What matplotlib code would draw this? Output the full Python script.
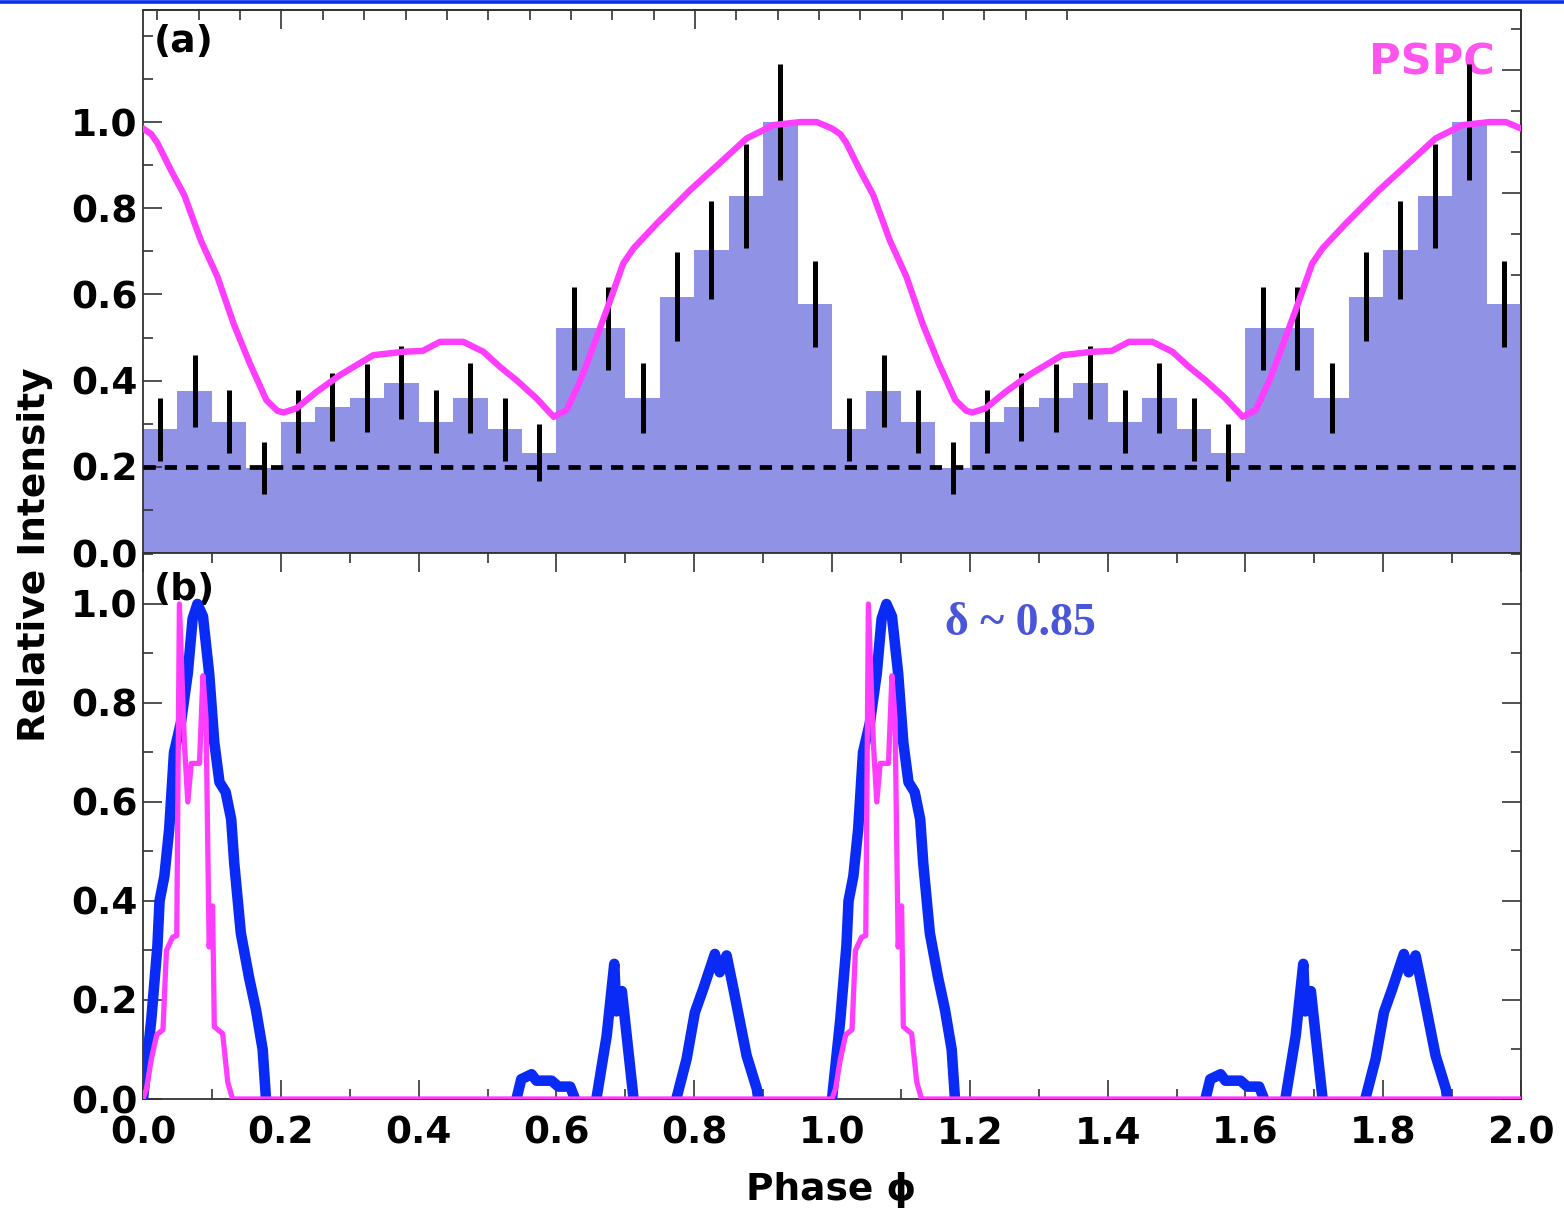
import numpy as np
import matplotlib
matplotlib.use("Agg")
import matplotlib.pyplot as plt
from matplotlib.lines import Line2D

plt.rcParams['font.family'] = ['DejaVu Sans']
plt.rcParams['font.weight'] = 'bold'

# ---- panel (a): binned light curve, one cycle (repeated for phase 1-2)
bin_width = 0.05
bin_counts = [0.287, 0.376, 0.305, 0.197, 0.305, 0.339, 0.359, 0.395, 0.305, 0.359,
              0.287, 0.233, 0.521, 0.521, 0.359, 0.595, 0.703, 0.829, 1.0, 0.577]
bin_errors = [0.073, 0.083, 0.074, 0.060, 0.074, 0.078, 0.079, 0.085, 0.074, 0.081,
              0.073, 0.066, 0.097, 0.097, 0.081, 0.104, 0.113, 0.121, 0.135, 0.100]
background_level = 0.2

# PSPC profile, one cycle
pspc_phase = [0.0, 0.012, 0.021, 0.04, 0.06, 0.084, 0.108, 0.132, 0.155, 0.179, 0.195,
              0.204, 0.223, 0.252, 0.286, 0.334, 0.378, 0.406, 0.431, 0.465, 0.494,
              0.518, 0.542, 0.571, 0.596, 0.615, 0.635, 0.649, 0.673, 0.697, 0.712,
              0.746, 0.794, 0.842, 0.876, 0.915, 0.954, 0.978]
pspc_flux = [0.985, 0.972, 0.951, 0.89, 0.83, 0.725, 0.641, 0.53, 0.44, 0.355, 0.33,
             0.326, 0.336, 0.374, 0.413, 0.459, 0.467, 0.469, 0.49, 0.49, 0.467,
             0.432, 0.401, 0.359, 0.316, 0.332, 0.401, 0.46, 0.564, 0.672, 0.707,
             0.765, 0.842, 0.912, 0.962, 0.993, 1.0, 1.0]

# ---- panel (b): model pulse profiles, one cycle
prof_phase = [0.0, 0.006, 0.012, 0.021, 0.024, 0.031, 0.038, 0.045, 0.055, 0.065,
              0.072, 0.079, 0.087, 0.096, 0.1035, 0.111, 0.120, 0.128, 0.1325, 0.142,
              0.154, 0.164, 0.1737, 0.1785,
              0.542, 0.549, 0.564, 0.571, 0.593, 0.603, 0.620, 0.627,
              0.658, 0.673, 0.684, 0.687, 0.695, 0.702, 0.712,
              0.774, 0.789, 0.801, 0.813, 0.830, 0.837, 0.847, 0.857, 0.876, 0.891, 0.893]
prof_int = [0.0, 0.08, 0.16, 0.31, 0.40, 0.45, 0.545, 0.70, 0.76, 0.86,
            0.97, 1.0, 0.975, 0.86, 0.72, 0.64, 0.62, 0.565, 0.475, 0.335,
            0.245, 0.18, 0.10, 0.0,
            0.0, 0.04, 0.05, 0.037, 0.037, 0.025, 0.025, 0.0,
            0.0, 0.128, 0.273, 0.177, 0.218, 0.128, 0.0,
            0.0, 0.081, 0.175, 0.222, 0.293, 0.256, 0.29, 0.222, 0.088, 0.02, 0.0]

pk_phase = [0.0, 0.005, 0.012, 0.02, 0.029, 0.034, 0.043, 0.049, 0.0528, 0.060,
            0.065, 0.070, 0.082, 0.087, 0.0915, 0.096, 0.101, 0.1035, 0.1156, 0.123, 0.130]
pk_int = [0.0, 0.02, 0.08, 0.13, 0.14, 0.30, 0.327, 0.33, 1.0, 0.72,
          0.60, 0.678, 0.678, 0.855, 0.768, 0.307, 0.39, 0.146, 0.132, 0.034, 0.0]

xticks = [0.0, 0.2, 0.4, 0.6, 0.8, 1.0, 1.2, 1.4, 1.6, 1.8, 2.0]
yticks = [0.0, 0.2, 0.4, 0.6, 0.8, 1.0]

AXC = '#333333'


def two_cycles(ph, val, end_val):
    ph = np.asarray(ph, dtype=float)
    val = np.asarray(val, dtype=float)
    x = np.concatenate([ph, ph + 1.0, [2.0]])
    y = np.concatenate([val, val, [end_val]])
    return x, y


def break_flat(x, y):
    # leave a gap wherever the curve just sits on zero
    xs, ys = [x[0]], [y[0]]
    for i in range(1, len(x)):
        if y[i] == 0 and y[i - 1] == 0:
            xs.append(np.nan)
            ys.append(np.nan)
        xs.append(x[i])
        ys.append(y[i])
    return np.array(xs), np.array(ys)


def style_axis(ax):
    for s in ax.spines.values():
        s.set_linewidth(1.3)
        s.set_color(AXC)
    ax.tick_params(which='both', direction='in', labelsize=27, width=1.2, color=AXC)
    ax.tick_params(which='major', length=14)
    ax.tick_params(which='minor', length=7)
    ax.tick_params(axis='y', pad=4)
    ax.tick_params(axis='x', pad=12)
    for lab in ax.get_xticklabels() + ax.get_yticklabels():
        lab.set_fontweight('bold')


def plain_ticks(sec):
    sec.tick_params(which='both', direction='in', labeltop=False, labelright=False,
                    width=1.2, color=AXC)
    sec.tick_params(which='major', length=14)
    sec.tick_params(which='minor', length=7)
    for sp in sec.spines.values():
        sp.set_linewidth(1.3)
        sp.set_color(AXC)


def main():
    fig = plt.figure(figsize=(15.64, 12.15), dpi=100)
    left, width = 143 / 1564, 1378 / 1564
    ax1 = fig.add_axes([left, 1 - 553 / 1215, width, 543 / 1215])
    ax2 = fig.add_axes([left, 1 - 1099 / 1215, width, 546 / 1215])

    # panel (a)
    counts = np.tile(bin_counts, 2)
    errs = np.tile(bin_errors, 2)
    edges = np.arange(len(counts)) * bin_width
    ax1.bar(edges, counts, width=bin_width, align='edge', color='#9092e6',
            linewidth=0, zorder=1)
    ax1.axhline(background_level, color='black', lw=3.4, dashes=(2.6, 1.9), zorder=3)
    ax1.errorbar(edges + bin_width / 2, counts, yerr=errs, fmt='none',
                 ecolor='black', elinewidth=3.6, capsize=0, zorder=4)
    px, py = two_cycles(pspc_phase, pspc_flux, pspc_flux[0])
    ax1.plot(px, py, color='#ff3dff', lw=4.6, zorder=5, solid_capstyle='round',
             solid_joinstyle='round')

    ax1.set_xlim(0, 2)
    ax1.set_ylim(0, 1.26)
    ax1.set_xticks(xticks)
    ax1.set_xticks(np.arange(0, 2.01, 0.1), minor=True)
    ax1.set_yticks(yticks)
    ax1.set_yticks(np.arange(0, 1.21, 0.1), minor=True)
    style_axis(ax1)
    ax1.tick_params(axis='x', which='both', bottom=False, top=False, labelbottom=False)
    ax1.tick_params(axis='y', which='both', left=True, right=False)

    # top and right ticks of panel (a) run on their own spacing
    top_ax = ax1.secondary_xaxis('top')
    top_ax.set_xticks(0.021 + 0.06 * np.array([3, 13]))
    top_ax.set_xticks(0.021 + 0.06 * np.arange(23), minor=True)
    plain_ticks(top_ax)
    right_ax = ax1.secondary_yaxis('right')
    right_ax.set_yticks(1.217 - 0.0955 * np.array([1, 4, 7, 10]))
    right_ax.set_yticks(1.217 - 0.0955 * np.arange(12), minor=True)
    plain_ticks(right_ax)

    ax1.text(0.008, 0.975, '(a)', transform=ax1.transAxes, fontsize=27,
             fontweight='bold', ha='left', va='top')
    ax1.text(0.981, 0.904, 'PSPC', transform=ax1.transAxes, fontsize=31,
             fontweight='bold', color='#ff55ee', ha='right', va='center')

    # panel (b)
    bx, by = break_flat(*two_cycles(prof_phase, prof_int, 0.0))
    ax2.plot(bx, by, color='#0a2af5', lw=7.6, zorder=3, solid_joinstyle='round',
             solid_capstyle='round')
    mx, my = two_cycles(pk_phase, pk_int, 0.0)
    ax2.plot(mx, my, color='#ff3dff', lw=3.8, zorder=4)

    ax2.set_xlim(0, 2)
    ax2.set_ylim(0, 1.103)
    ax2.set_xticks(xticks)
    ax2.set_xticks(np.arange(0, 2.01, 0.1), minor=True)
    ax2.set_yticks(yticks)
    ax2.set_yticks(np.arange(0, 1.11, 0.1), minor=True)
    style_axis(ax2)
    ax2.tick_params(which='both', top=True, right=True)

    ax2.text(0.008, 0.965, '(b)', transform=ax2.transAxes, fontsize=27,
             fontweight='bold', ha='left', va='top', zorder=1)
    ax2.text(1.164, 0.96, 'δ ~ 0.85', fontsize=33, fontweight='bold',
             family=['Liberation Serif', 'DejaVu Serif'], color='#4a56d8',
             ha='left', va='center')

    fig.text(0.0225, 1 - 555 / 1215, 'Relative Intensity', rotation=90,
             fontsize=27, fontweight='bold', ha='center', va='center')
    fig.text(831 / 1564, 1 - 1190 / 1215, 'Phase ϕ', fontsize=27,
             fontweight='bold', ha='center', va='center')

    fig.add_artist(Line2D([0, 1], [1 - 1.5 / 1215, 1 - 1.5 / 1215],
                          transform=fig.transFigure, color='#0a30f0', lw=2.6))

    plt.savefig("out.png", dpi=100)


if __name__ == "__main__":
    main()
